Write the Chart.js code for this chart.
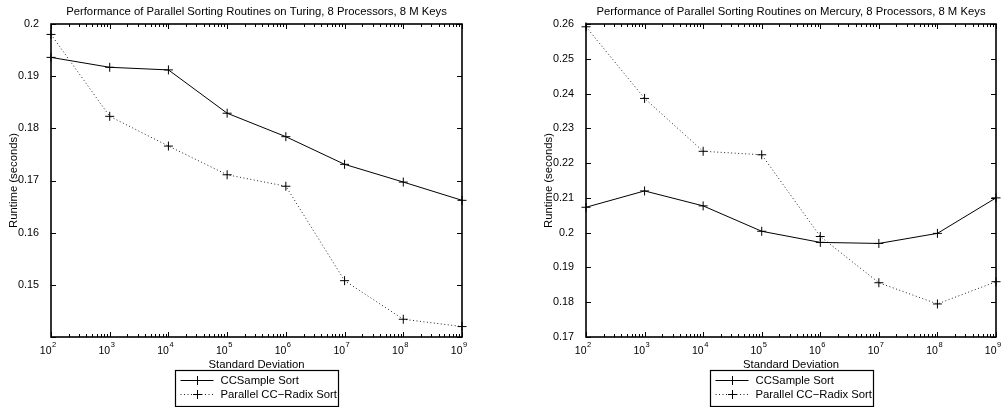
<!DOCTYPE html>
<html>
<head>
<meta charset="utf-8">
<script src="https://cdn.jsdelivr.net/npm/chart.js@4.4.1/dist/chart.umd.min.js"></script>
<style>
  html, body { margin: 0; padding: 0; background: #fff; }
  #wrap { position: relative; width: 1005px; height: 407px; overflow: hidden; }
  canvas { position: absolute; top: 0; }
</style>
</head>
<body>
<div id="wrap">
  <canvas id="turing" width="500" height="407" style="left:0"></canvas>
  <canvas id="mercury" width="505" height="407" style="left:500px"></canvas>
</div>
<script>
// -------------------------------------------------------------
// Data
// -------------------------------------------------------------
const stdDevs = [1e2, 1e3, 1e4, 1e5, 1e6, 1e7, 1e8, 1e9]
const xTickExps = ['2', '3', '4', '5', '6', '7', '8', '9']
const seriesNames = ['CCSample Sort', 'Parallel CC\u2212Radix Sort']

const turingSample = [0.1936, 0.1917, 0.1912, 0.1829, 0.1784, 0.1731, 0.1697, 0.1662]
const turingRadix  = [0.1980, 0.1823, 0.1766, 0.1711, 0.1689, 0.1508, 0.1434, 0.1420]

const mercurySample = [0.2073, 0.2120, 0.2077, 0.2004, 0.1972, 0.1969, 0.1998, 0.2100]
const mercuryRadix  = [0.2592, 0.2386, 0.2234, 0.2224, 0.1989, 0.1856, 0.1795, 0.1859]

const FONT = '"Liberation Sans", Arial, Helvetica, sans-serif'
const TEXT_SIZE = 11.3

// -------------------------------------------------------------
// MATLAB-ish axes: boxed plot, inward ticks, 10^n labels, legend
// -------------------------------------------------------------
const matlabAxes = {
  id: 'matlabAxes',
  afterDraw(chart, args, opts) {
    const ctx = chart.ctx
    const a = chart.chartArea
    const xs = chart.scales.x
    const ys = chart.scales.y
    ctx.save()
    ctx.strokeStyle = '#000'
    ctx.fillStyle = '#000'

    // ticks
    ctx.lineWidth = 1
    ctx.beginPath()
    stdDevs.forEach((v, i) => {
      const px = Math.round(xs.getPixelForValue(v)) + 0.5
      ctx.moveTo(px, a.bottom); ctx.lineTo(px, a.bottom - 5)
      ctx.moveTo(px, a.top); ctx.lineTo(px, a.top + 5)
      if (i === stdDevs.length - 1) return
      for (let k = 2; k <= 9; k++) {
        const mx = Math.round(xs.getPixelForValue(v * k)) + 0.5
        ctx.moveTo(mx, a.bottom); ctx.lineTo(mx, a.bottom - 3)
        ctx.moveTo(mx, a.top); ctx.lineTo(mx, a.top + 3)
      }
    })
    ys.ticks.forEach(t => {
      const py = Math.round(ys.getPixelForValue(t.value)) + 0.5
      ctx.moveTo(a.left, py); ctx.lineTo(a.left + 5, py)
      ctx.moveTo(a.right, py); ctx.lineTo(a.right - 5, py)
    })
    ctx.stroke()

    // box
    ctx.lineWidth = 1.6
    ctx.strokeRect(a.left, a.top, a.right - a.left, a.bottom - a.top)

    // x tick labels 10^n
    stdDevs.forEach((v, i) => {
      const px = xs.getPixelForValue(v)
      ctx.textBaseline = 'middle'
      ctx.font = `10.5px ${FONT}`
      ctx.textAlign = 'right'
      ctx.fillText('10', px + 0.5, a.bottom + 14)
      ctx.font = `7.5px ${FONT}`
      ctx.textAlign = 'left'
      ctx.fillText(xTickExps[i], px + 1, a.bottom + 8)
    })

    // titles
    const cx = (a.left + a.right) / 2
    ctx.font = `${TEXT_SIZE}px ${FONT}`
    ctx.textAlign = 'center'
    ctx.textBaseline = 'middle'
    ctx.fillText(opts.title, cx, 12)
    ctx.fillText('Standard Deviation', cx, a.bottom + 28)
    ctx.save()
    ctx.translate(opts.yTitleX, (a.top + a.bottom) / 2)
    ctx.rotate(-Math.PI / 2)
    ctx.fillText('Runtime (seconds)', 0, 0)
    ctx.restore()

    // legend
    const textW = Math.max(...seriesNames.map(n => ctx.measureText(n).width))
    const boxW = Math.round(45 + textW + 2)
    const boxL = Math.round(cx - boxW / 2) + 0.5
    const boxT = a.bottom + 33.5
    ctx.fillStyle = '#fff'
    ctx.fillRect(boxL, boxT, boxW, 36)
    ctx.lineWidth = 1.2
    ctx.strokeRect(boxL, boxT, boxW, 36)
    chart.data.datasets.forEach((ds, i) => {
      const ry = Math.round(boxT + 9.5 + i * 14) + 0.5
      ctx.lineWidth = 1
      ctx.strokeStyle = ds.borderColor
      ctx.setLineDash(ds.borderDash || [])
      ctx.beginPath()
      ctx.moveTo(boxL + 5, ry); ctx.lineTo(boxL + 38, ry)
      ctx.stroke()
      ctx.setLineDash([])
      ctx.strokeStyle = '#000'
      ctx.beginPath()
      ctx.moveTo(boxL + 22 - 4.5, ry); ctx.lineTo(boxL + 22 + 4.5, ry)
      ctx.moveTo(boxL + 22, ry - 4.5); ctx.lineTo(boxL + 22, ry + 4.5)
      ctx.stroke()
      ctx.fillStyle = '#000'
      ctx.textAlign = 'left'
      ctx.fillText(ds.label, boxL + 45, ry)
    })
    ctx.restore()
  }
}

function series(label, values, dashed) {
  return {
    label,
    data: stdDevs.map((x, i) => ({ x, y: values[i] })),
    borderColor: dashed ? '#222' : '#000',
    borderWidth: 1,
    borderDash: dashed ? [1, 2.5] : [],
    tension: 0,
    clip: false,
    pointStyle: 'cross',
    pointRadius: 4.5,
    pointHoverRadius: 4.5,
    pointBorderColor: '#000',
    pointBorderWidth: 1
  }
}

function makeChart(id, title, sample, radix, yMin, yMax, yAxisW, padRight, yTitleX, hideMinLabel) {
  return new Chart(document.getElementById(id), {
    type: 'line',
    data: {
      datasets: [series(seriesNames[0], sample, false), series(seriesNames[1], radix, true)]
    },
    options: {
      responsive: false,
      devicePixelRatio: 1,
      animation: false,
      events: [],
      layout: { padding: { top: 24, right: padRight, bottom: 0, left: 0 } },
      plugins: {
        legend: { display: false },
        tooltip: { enabled: false },
        matlabAxes: { title, yTitleX }
      },
      scales: {
        x: {
          type: 'logarithmic',
          min: 1e2,
          max: 1e9,
          grid: { display: false },
          border: { display: false },
          ticks: { display: false },
          afterFit: s => { s.height = 70 }
        },
        y: {
          min: yMin,
          max: yMax,
          grid: { display: false },
          border: { display: false },
          ticks: {
            stepSize: 0.01,
            padding: 4,
            color: '#000',
            font: { family: FONT, size: 10.8 },
            callback: v => {
              if (hideMinLabel && Math.abs(v - yMin) < 1e-9) return ''
              return String(Number(v.toFixed(2)))
            }
          },
          afterFit: s => { s.width = yAxisW }
        }
      }
    },
    plugins: [matlabAxes]
  })
}

makeChart('turing', 'Performance of Parallel Sorting Routines on Turing, 8 Processors, 8 M Keys',
  turingSample, turingRadix, 0.14, 0.2, 51, 38, 14, true)
makeChart('mercury', 'Performance of Parallel Sorting Routines on Mercury, 8 Processors, 8 M Keys',
  mercurySample, mercuryRadix, 0.17, 0.26, 86, 9, 49, false)
</script>
</body>
</html>
